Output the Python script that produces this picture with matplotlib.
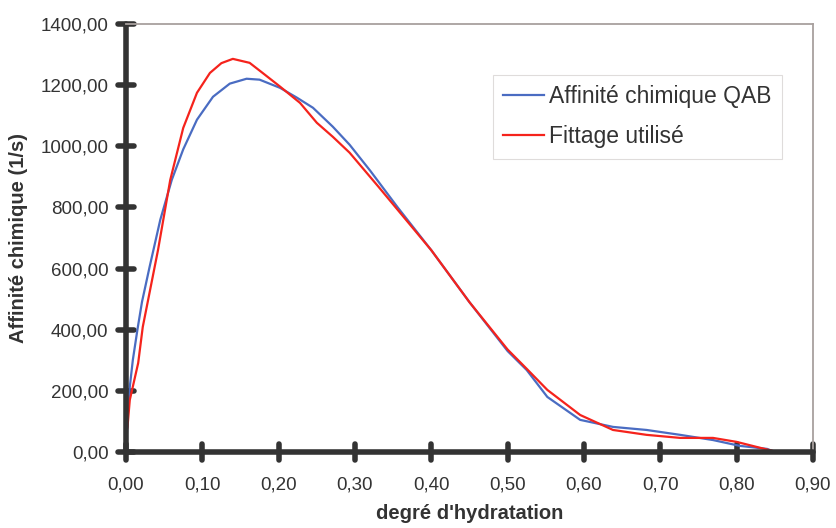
import numpy as np
import matplotlib
matplotlib.use("Agg")
import matplotlib.pyplot as plt
from matplotlib.ticker import FuncFormatter, MultipleLocator
from matplotlib.markers import MarkerStyle

plt.rcParams['font.family'] = ['Liberation Sans', 'DejaVu Sans']

# Affinité chimique QAB (courbe bleue)
x_qab = [0, 0.003, 0.005, 0.009, 0.015, 0.021, 0.031, 0.045, 0.060, 0.075, 0.093,
         0.114, 0.136, 0.158, 0.175, 0.202, 0.224, 0.245, 0.271, 0.293, 0.32, 0.356,
         0.40, 0.45, 0.50, 0.525, 0.552, 0.595, 0.638, 0.682, 0.726, 0.769, 0.804,
         0.840, 0.85]
y_qab = [0, 150, 213, 301, 400, 491, 606, 760, 890, 990, 1087,
         1162, 1205, 1221, 1218, 1191, 1159, 1126, 1064, 1005, 920, 800,
         660, 490, 330, 268, 180, 105, 82, 72, 56, 39, 20,
         10, 0]

# Fittage utilisé (courbe rouge)
x_fit = [0, 0.002, 0.005, 0.016, 0.022, 0.042, 0.058, 0.075, 0.093, 0.110, 0.125,
         0.140, 0.162, 0.179, 0.202, 0.228, 0.250, 0.271, 0.293, 0.33, 0.40, 0.45,
         0.50, 0.525, 0.552, 0.595, 0.638, 0.682, 0.726, 0.769, 0.800, 0.827, 0.848]
y_fit = [60, 82, 170, 291, 409, 661, 890, 1060, 1175, 1240, 1272,
         1286, 1273, 1240, 1195, 1142, 1077, 1031, 979, 870, 660, 490,
         335, 272, 203, 121, 72, 56, 46, 46, 33, 16, 3]

txt = '#333333'
fig = plt.figure(figsize=(8.37, 5.28), dpi=100)
ax = fig.add_axes([0.1505, 0.144, 0.8208, 0.8105])

ax.plot(x_qab, y_qab, color='#4a6cc2', lw=1.6, label='Affinité chimique QAB')
ax.plot(x_fit, y_fit, color='#f5231c', lw=1.6, label='Fittage utilisé')

ax.set_xlim(0, 0.9)
ax.set_ylim(0, 1400)
ax.xaxis.set_major_locator(MultipleLocator(0.1))
ax.yaxis.set_major_locator(MultipleLocator(200))
ax.xaxis.set_major_formatter(FuncFormatter(lambda v, p: f"{v:.2f}".replace('.', ',')))
ax.yaxis.set_major_formatter(FuncFormatter(lambda v, p: f"{v:.2f}".replace('.', ',')))

for s in ['left', 'bottom']:
    ax.spines[s].set_linewidth(4)
    ax.spines[s].set_color(txt)
    ax.spines[s].set_capstyle('round')
for s in ['top', 'right']:
    ax.spines[s].set_linewidth(1.3)
    ax.spines[s].set_color('#a8a09e')
ax.tick_params(direction='inout', length=11, width=4, color=txt, labelsize=13.5,
               labelcolor=txt)
ax.tick_params(axis='x', pad=12)
ax.tick_params(axis='y', pad=7)

# tirets arrondis
for t in ax.xaxis.get_major_ticks():
    t.tick1line.set_marker(MarkerStyle('|', capstyle='round'))
for t in ax.yaxis.get_major_ticks():
    t.tick1line.set_marker(MarkerStyle('_', capstyle='round'))

ax.set_xlabel("degré d'hydratation", fontsize=14.5, fontweight='bold', color=txt, labelpad=8)
ax.set_ylabel("Affinité chimique (1/s)", fontsize=14.5, fontweight='bold', color=txt, labelpad=9)

leg = ax.legend(loc='upper left', bbox_to_anchor=(0.534, 0.881), borderaxespad=0,
                fontsize=16.5, frameon=True, fancybox=False, edgecolor='#d8d4d2',
                handlelength=1.8, handletextpad=0.2, borderpad=0.45, labelspacing=0.75,
                labelcolor=txt)
leg.get_frame().set_linewidth(0.8)

fig.savefig('out.png', dpi=100)
